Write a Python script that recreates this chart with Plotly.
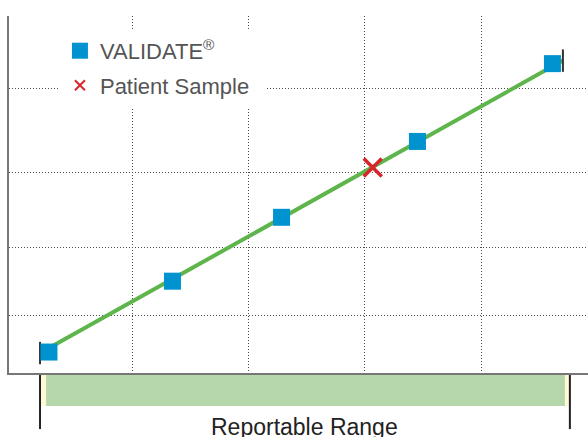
import plotly.graph_objects as go

# ---- data (x in concentration units, y in response units) ----
validate_x = [0.281, 1.344, 2.283, 3.453, 4.615]
validate_y = [5.88, 25.77, 43.70, 64.99, 86.83]
patient_x = [3.068]
patient_y = [57.70]
fit_x = [0.204, 4.705]
fit_y = [5.60, 87.68]
reportable_range = [0.204, 4.765]
x_grid = [1, 2, 3, 4]
y_grid = [16.25, 35.29, 56.30, 79.83, 100]

FONT = "Liberation Sans, Arial, sans-serif"
BLUE = "#0093D0"
GREEN = "#5DB54B"
RED = "#D7262B"

fig = go.Figure()
fig.add_trace(go.Scatter(x=fit_x, y=fit_y, mode="lines",
                         line=dict(color=GREEN, width=4),
                         showlegend=False, hoverinfo="skip"))
fig.add_trace(go.Scatter(x=fit_x, y=fit_y, mode="markers",
                         marker=dict(symbol="line-ns", size=16,
                                     line=dict(color="#333333", width=2)),
                         showlegend=False, hoverinfo="skip"))
fig.add_trace(go.Scatter(x=validate_x, y=validate_y, mode="markers",
                         marker=dict(symbol="square", size=17, color=BLUE),
                         showlegend=False))
fig.add_trace(go.Scatter(x=patient_x, y=patient_y, mode="markers",
                         marker=dict(symbol="x-thin", size=18,
                                     line=dict(color=RED, width=3.5)),
                         showlegend=False))
# legend entries
fig.add_trace(go.Scatter(x=[None], y=[None], mode="markers",
                         name="VALIDATE<sup>®</sup>", legendgroup="a",
                         marker=dict(symbol="square", size=17, color=BLUE)))
fig.add_trace(go.Scatter(x=[None], y=[None], mode="markers",
                         name="Patient Sample\u00a0\u00a0", legendgroup="b",
                         marker=dict(symbol="x-thin", size=10,
                                     line=dict(color=RED, width=2))))

lo, hi = reportable_range
y_top, y_band, y_line = -0.0056, -0.0924, -0.157
shapes = [
    dict(type="rect", xref="x", yref="paper", x0=lo + 0.009, x1=hi - 0.008,
         y0=y_top, y1=y_band, fillcolor="#FFF9D6", line=dict(width=0)),
    dict(type="rect", xref="x", yref="paper", x0=lo + 0.052, x1=hi - 0.043,
         y0=y_top, y1=y_band, fillcolor="#B6D7AC", line=dict(width=0)),
    dict(type="line", xref="x", yref="paper", x0=lo, x1=lo, y0=y_top, y1=y_line,
         line=dict(color="#222222", width=2)),
    dict(type="line", xref="x", yref="paper", x0=hi, x1=hi, y0=y_top, y1=y_line,
         line=dict(color="#222222", width=2)),
]

axis_common = dict(showticklabels=False, ticks="", showgrid=True,
                   gridcolor="#4a4a4a", griddash="1px,2px", gridwidth=1,
                   showline=True, linecolor="#777777", linewidth=2,
                   zeroline=False)

fig.update_layout(
    width=588, height=437,
    margin=dict(l=9, r=0, t=16, b=64),
    paper_bgcolor="white", plot_bgcolor="white",
    font=dict(family=FONT),
    xaxis=dict(range=[-0.0631, 4.921], tickvals=x_grid, **axis_common),
    yaxis=dict(range=[0, 100.2], tickvals=y_grid, **axis_common),
    shapes=shapes,
    annotations=[dict(x=(lo + hi) / 2, y=-0.1513, xref="x", yref="paper",
                      text="Reportable Range", showarrow=False,
                      font=dict(size=23, color="#222222", family=FONT),
                      xanchor="center", yanchor="middle")],
    legend=dict(x=0.088, y=0.961, xanchor="left", yanchor="top",
                bgcolor="white", borderwidth=0,
                font=dict(size=22, color="#555555", family=FONT),
                traceorder="grouped", tracegroupgap=3, itemclick=False),
)

fig.write_html(
    "out.html",
    config={"displayModeBar": False},
    post_script="document.body.style.margin='0';"
                "document.documentElement.style.overflow='hidden';"
                "document.body.style.overflow='hidden';",
)
